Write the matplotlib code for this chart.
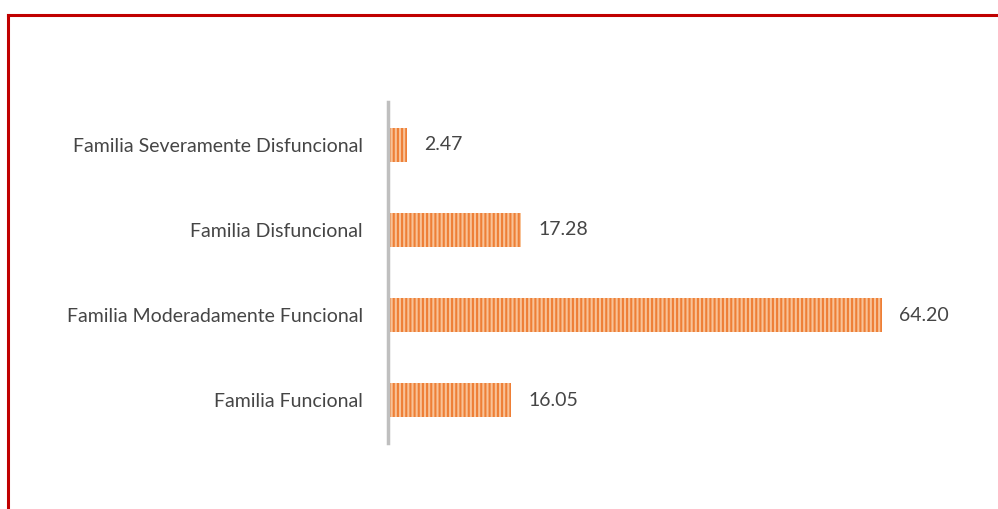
import matplotlib.pyplot as plt
from matplotlib.lines import Line2D

categories = ['Familia Funcional', 'Familia Moderadamente Funcional',
              'Familia Disfuncional', 'Familia Severamente Disfuncional']
values = [16.05, 64.20, 17.28, 2.47]

plt.rcParams['font.family'] = ['Lato', 'DejaVu Sans']
plt.rcParams['hatch.linewidth'] = 1.5

fig = plt.figure(figsize=(9.98, 5.09), dpi=100)
ax = fig.add_axes([388 / 998, 66 / 509, 577 / 998, 341 / 509])

y = range(len(categories))
ax.barh(y, values, height=0.4, color='#F8C297', edgecolor='none', linewidth=0)
ax.barh(y, values, height=0.4, fill=False, hatch='||||', edgecolor='#EE7F36', linewidth=0)

for i, v in enumerate(values):
    ax.annotate(f'{v:.2f}', xy=(v, i), xytext=(12.5, 0), textcoords='offset points',
                va='center', ha='left', fontsize=14, color='#454545')

ax.set_xlim(0, 75)
ax.set_ylim(-0.5, 3.5)
ax.set_yticks(list(y))
ax.set_yticklabels(categories, fontsize=14, color='#454545')
ax.tick_params(axis='y', length=0, pad=18)
ax.set_xticks([])
for side in ['top', 'right', 'bottom']:
    ax.spines[side].set_visible(False)
ax.spines['left'].set_color('#BFBFBF')
ax.spines['left'].set_linewidth(2.5)

# red frame around chart
fig.add_artist(Line2D([7.5 / 998, 7.5 / 998], [0, 1 - 15 / 509], color='#C00000', lw=2.2))
fig.add_artist(Line2D([7.5 / 998, 1], [1 - 15 / 509, 1 - 15 / 509], color='#C00000', lw=2.2))

fig.savefig('out.png', dpi=100)
